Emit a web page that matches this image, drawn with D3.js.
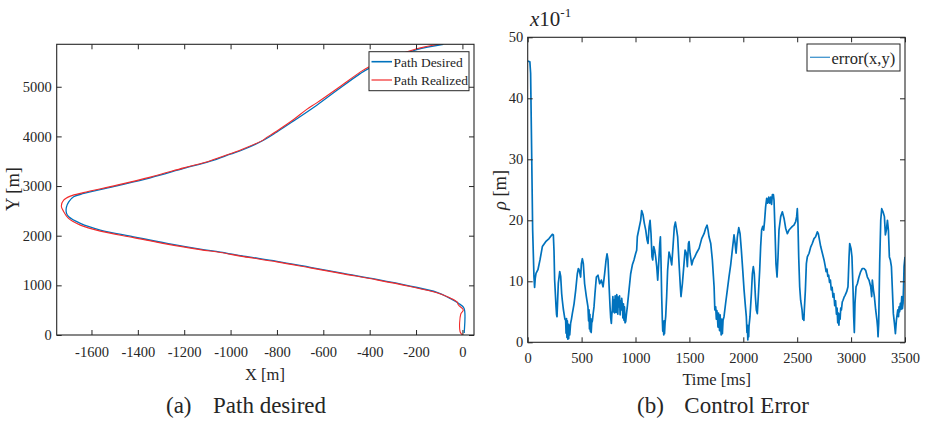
<!DOCTYPE html>
<html>
<head>
<meta charset="utf-8">
<script src="https://cdn.jsdelivr.net/npm/d3@7"></script>
<style>
  html, body { margin: 0; padding: 0; background: #fff; }
  svg { display: block; }
  text { font-family: "Liberation Serif", "Times New Roman", serif; fill: #262626; }
</style>
</head>
<body>
<svg id="chart" width="928" height="423"></svg>
<script>
// ---- Panel (a): desired vs realized path ----
const desiredX = [8, 8, 7, -17, -53, -110, -225, -369, -513, -656, -800, -944, -1044, -1131, -1274, -1418, -1562, -1648, -1698, -1708, -1708, -1698, -1677, -1633, -1490, -1346, -1202, -1087, -1001, -944, -858, -800, -728, -628, -541, -441, -405, -303, -197, -82];
const desiredY = [40, 60, 537, 638, 738, 859, 986, 1121, 1241, 1362, 1483, 1589, 1670, 1730, 1845, 1978, 2113, 2247, 2380, 2455, 2575, 2682, 2783, 2851, 3004, 3165, 3354, 3501, 3642, 3736, 3923, 4090, 4312, 4628, 4929, 5265, 5366, 5573, 5748, 5855];

const realizedX = [0, -10, -7, 4, -17, -24, -57, -110, -225, -369, -513, -656, -800, -944, -1044, -1131, -1274, -1418, -1562, -1648, -1700, -1721, -1730, -1720, -1691, -1635, -1490, -1346, -1202, -1087, -1001, -944, -864, -850, -800, -728, -673, -630, -541, -441, -406, -303, -197, -83];
const realizedY = [0, 66, 423, 503, 604, 670, 755, 849, 976, 1111, 1231, 1352, 1473, 1579, 1660, 1720, 1831, 1962, 2092, 2213, 2354, 2495, 2595, 2716, 2797, 2867, 3018, 3180, 3366, 3511, 3652, 3752, 3915, 3960, 4110, 4340, 4540, 4670, 4960, 5295, 5395, 5595, 5764, 5875];

const pathXTicks = [-1600, -1400, -1200, -1000, -800, -600, -400, -200, 0];
const pathYTicks = [0, 1000, 2000, 3000, 4000, 5000];
const pathLegend = ["Path Desired", "Path Realized"];

// ---- Panel (b): control error over time (values in units of 10^-1 m) ----
const errTime = [0, 20, 27, 34, 46, 58, 64, 70, 77, 95, 114, 136, 167, 198, 229, 238, 244, 250, 263, 268, 272, 278, 284, 297, 306, 315, 321, 330, 337, 345, 352, 356, 360, 364, 368, 372, 376, 380, 385, 390, 398, 406, 414, 430, 445, 460, 470, 479, 491, 498, 507, 516, 528, 544, 559, 565, 569, 573, 577, 581, 585, 589, 594, 600, 608, 615, 624, 637, 652, 668, 683, 699, 714, 727, 736, 745, 754, 764, 770, 776, 780, 785, 790, 795, 801, 806, 811, 816, 821, 826, 831, 836, 841, 847, 852, 857, 862, 867, 872, 878, 883, 888, 893, 898, 903, 909, 916, 924, 940, 955, 971, 986, 1002, 1011, 1017, 1033, 1048, 1057, 1070, 1082, 1095, 1107, 1116, 1126, 1135, 1144, 1153, 1160, 1169, 1178, 1187, 1197, 1206, 1215, 1225, 1231, 1237, 1243, 1249, 1253, 1258, 1262, 1265, 1269, 1274, 1280, 1289, 1298, 1311, 1323, 1336, 1348, 1360, 1370, 1382, 1391, 1404, 1416, 1422, 1435, 1450, 1460, 1472, 1481, 1491, 1497, 1506, 1522, 1534, 1550, 1565, 1590, 1614, 1636, 1651, 1664, 1673, 1682, 1698, 1713, 1729, 1736, 1744, 1750, 1755, 1760, 1765, 1770, 1775, 1780, 1785, 1790, 1795, 1800, 1806, 1812, 1821, 1836, 1852, 1867, 1883, 1898, 1914, 1924, 1933, 1945, 1958, 1970, 1982, 1995, 2007, 2020, 2028, 2034, 2038, 2042, 2046, 2050, 2053, 2062, 2075, 2084, 2093, 2102, 2112, 2121, 2130, 2139, 2152, 2161, 2170, 2180, 2189, 2198, 2207, 2217, 2226, 2236, 2245, 2254, 2262, 2270, 2279, 2285, 2294, 2303, 2313, 2322, 2331, 2347, 2362, 2378, 2393, 2409, 2424, 2439, 2455, 2470, 2486, 2495, 2501, 2507, 2514, 2523, 2532, 2545, 2552, 2557, 2562, 2566, 2576, 2585, 2594, 2610, 2625, 2640, 2656, 2671, 2687, 2696, 2718, 2749, 2760, 2768, 2776, 2784, 2792, 2800, 2808, 2816, 2824, 2832, 2840, 2848, 2856, 2864, 2870, 2876, 2882, 2887, 2892, 2898, 2904, 2910, 2918, 2925, 2935, 2944, 2959, 2971, 2975, 2981, 2987, 2999, 3008, 3018, 3024, 3030, 3036, 3046, 3058, 3073, 3089, 3104, 3120, 3135, 3151, 3166, 3182, 3191, 3197, 3207, 3216, 3228, 3240, 3246, 3250, 3256, 3265, 3275, 3284, 3296, 3309, 3318, 3327, 3337, 3346, 3355, 3364, 3374, 3383, 3392, 3402, 3411, 3420, 3426, 3433, 3440, 3445, 3450, 3457, 3463, 3470, 3476, 3482, 3488, 3491, 3500];
const errValue = [46.1, 46.0, 44.1, 34.8, 18.4, 10.8, 9.0, 10.5, 11.3, 11.9, 13.5, 15.7, 16.5, 17.0, 17.7, 17.6, 15.0, 10.2, 5.8, 4.5, 4.2, 7.0, 9.7, 11.6, 10.8, 8.0, 6.9, 5.5, 4.7, 3.8, 3.6, 1.5, 3.9, 0.8, 3.5, 0.5, 3.0, 0.6, 2.8, 1.2, 3.1, 3.8, 4.7, 6.3, 8.5, 11.2, 12.1, 11.8, 10.7, 12.9, 13.7, 12.9, 9.6, 7.5, 5.8, 3.5, 5.3, 2.2, 4.6, 1.8, 3.9, 1.6, 3.2, 3.5, 4.8, 5.8, 8.0, 10.7, 11.0, 9.6, 10.2, 9.1, 11.3, 13.5, 14.5, 13.5, 9.6, 5.8, 4.0, 3.1, 4.5, 5.3, 7.5, 5.0, 6.9, 4.8, 7.6, 6.4, 4.9, 7.8, 7.2, 4.6, 7.4, 5.8, 7.6, 4.5, 6.7, 5.3, 7.2, 6.1, 4.0, 6.3, 3.6, 5.8, 3.2, 3.4, 4.6, 5.8, 8.6, 11.2, 12.7, 13.5, 14.6, 15.1, 17.3, 18.7, 20.0, 21.6, 20.9, 19.5, 18.4, 16.8, 16.2, 18.9, 20.0, 17.8, 14.0, 13.5, 15.7, 15.1, 14.0, 12.4, 10.2, 12.9, 16.2, 17.3, 12.9, 7.5, 3.6, 1.8, 3.1, 1.2, 3.5, 1.4, 3.1, 4.2, 7.5, 11.8, 14.8, 14.0, 12.7, 15.7, 18.9, 19.7, 18.4, 17.3, 12.9, 9.1, 7.5, 9.6, 12.9, 15.1, 14.6, 12.4, 16.2, 16.5, 14.6, 12.7, 13.5, 14.0, 14.6, 15.4, 17.0, 17.8, 18.7, 19.2, 18.4, 17.3, 16.2, 13.5, 9.1, 5.3, 5.8, 3.8, 5.2, 4.2, 2.5, 4.8, 3.1, 1.9, 4.5, 2.6, 1.2, 3.8, 1.4, 3.6, 4.2, 6.4, 8.6, 10.7, 12.7, 15.1, 17.6, 16.2, 14.6, 17.3, 18.8, 17.8, 15.1, 11.8, 8.6, 5.8, 4.2, 1.6, 2.8, 0.4, 2.2, 0.9, 2.6, 4.2, 8.0, 11.2, 12.4, 11.2, 7.5, 5.3, 4.7, 7.5, 11.8, 15.7, 18.4, 19.0, 18.4, 20.0, 22.2, 23.6, 22.8, 23.8, 22.8, 23.8, 22.6, 24.2, 24.2, 23.3, 18.4, 12.9, 10.7, 14.0, 18.4, 20.6, 21.4, 20.3, 18.7, 17.8, 18.4, 18.7, 19.0, 19.2, 19.8, 20.6, 21.9, 19.5, 14.0, 9.1, 6.9, 5.3, 3.8, 4.2, 3.6, 5.3, 8.6, 12.9, 14.0, 14.6, 15.6, 16.2, 17.0, 17.3, 18.1, 17.8, 15.7, 13.5, 12.5, 11.6, 12.0, 10.8, 11.0, 9.8, 10.2, 8.6, 9.0, 7.4, 8.0, 6.0, 6.8, 4.6, 5.6, 3.2, 4.8, 2.8, 4.6, 3.8, 5.6, 5.3, 6.6, 6.9, 7.4, 7.7, 8.3, 9.1, 11.0, 14.0, 16.2, 15.4, 14.0, 8.6, 4.2, 1.6, 6.4, 9.1, 9.6, 10.7, 11.6, 12.1, 12.1, 11.8, 10.7, 10.2, 9.1, 7.5, 10.2, 8.6, 7.5, 5.3, 3.6, 2.4, 0.9, 3.1, 12.9, 20.0, 21.9, 21.4, 20.6, 17.6, 18.4, 20.0, 18.4, 14.0, 13.5, 12.4, 8.6, 4.7, 3.1, 1.4, 3.6, 4.4, 5.3, 4.2, 5.8, 5.0, 6.4, 5.4, 7.5, 5.5, 6.4, 10.0, 12.4, 14.0];

const errXTicks = [0, 500, 1000, 1500, 2000, 2500, 3000, 3500];
const errYTicks = [0, 10, 20, 30, 40, 50];
const errLegend = ["error(x,y)"];

const BLUE = "#0072BD";
const RED = "#f22b2b";
const AXIS = "#262626";
const SERIF = "'Liberation Serif', 'Times New Roman', serif";

const svg = d3.select("#chart");
svg.append("rect").attr("width", 928).attr("height", 423).attr("fill", "#fff");

// plain integer labels with an ASCII hyphen for negatives
const plainFormat = d => String(d);

// Draws a boxed axes frame with inward ticks on all four sides.
function frame(g, x, y, xTicks, yTicks, xPad, yPad) {
  const [x0, x1] = x.range();
  const [y0, y1] = y.range();
  const w = x1 - x0, h = y0 - y1;
  const tick = 5;

  const bottom = g.append("g").attr("transform", `translate(0,${y0})`)
    .call(d3.axisBottom(x).tickValues(xTicks).tickFormat(plainFormat).tickSizeInner(-tick).tickSizeOuter(0).tickPadding(xPad));
  const top = g.append("g").attr("transform", `translate(0,${y1})`)
    .call(d3.axisTop(x).tickValues(xTicks).tickSizeInner(-tick).tickSizeOuter(0).tickFormat(""));
  const left = g.append("g").attr("transform", `translate(${x0},0)`)
    .call(d3.axisLeft(y).tickValues(yTicks).tickFormat(plainFormat).tickSizeInner(-tick).tickSizeOuter(0).tickPadding(yPad));
  const right = g.append("g").attr("transform", `translate(${x1},0)`)
    .call(d3.axisRight(y).tickValues(yTicks).tickSizeInner(-tick).tickSizeOuter(0).tickFormat(""));

  [bottom, top, left, right].forEach(a => {
    a.attr("font-family", null);
    a.select(".domain").remove();
    a.selectAll("line").attr("stroke", AXIS).attr("stroke-width", 1);
    a.selectAll("text").style("font-family", SERIF).style("font-size", "14.5px").attr("fill", AXIS);
  });

  g.append("rect").attr("x", x0).attr("y", y1).attr("width", w).attr("height", h)
    .attr("fill", "none").attr("stroke", AXIS).attr("stroke-width", 1.1);
}

// ---------- Panel (a) ----------
const ax = d3.scaleLinear().domain([-1750, 50]).range([56.7, 474]);
const ay = d3.scaleLinear().domain([0, 5855]).range([335, 44.3]);
const ga = svg.append("g");

ga.append("clipPath").attr("id", "clipA").append("rect")
  .attr("x", 56.7).attr("y", 44.3).attr("width", 474 - 56.7).attr("height", 335 - 44.3);

const pathLine = d3.line().x(d => ax(d[0])).y(d => ay(d[1])).curve(d3.curveCatmullRom.alpha(0.5));
const desired = desiredX.map((v, i) => [v, desiredY[i]]);
const realized = realizedX.map((v, i) => [v, realizedY[i]]);

const plotA = ga.append("g").attr("clip-path", "url(#clipA)");
plotA.append("path").attr("d", pathLine(desired)).attr("fill", "none").attr("stroke", BLUE).attr("stroke-width", 1.3);
plotA.append("path").attr("d", pathLine(realized)).attr("fill", "none").attr("stroke", RED).attr("stroke-width", 1.1);

frame(ga, ax, ay, pathXTicks, pathYTicks, 12, 5);

// legend (a)
const legA = ga.append("g");
legA.append("rect").attr("x", 369).attr("y", 51.7).attr("width", 100).attr("height", 39)
  .attr("fill", "#fff").attr("stroke", AXIS).attr("stroke-width", 1);
[BLUE, RED].forEach((c, i) => {
  const yy = 61.7 + i * 18.3;
  legA.append("line").attr("x1", 371.5).attr("x2", 392).attr("y1", yy).attr("y2", yy)
    .attr("stroke", c).attr("stroke-width", i === 0 ? 1.6 : 1.2);
  legA.append("text").attr("x", 393.5).attr("y", yy + 5).attr("font-size", 13.5).text(pathLegend[i]);
});

ga.append("text").attr("x", 265).attr("y", 380).attr("text-anchor", "middle").attr("font-size", 16.5).text("X [m]");
ga.append("text").attr("transform", "translate(19,189) rotate(-90)").attr("text-anchor", "middle")
  .attr("font-size", 18.5).text("Y [m]");

ga.append("text").attr("x", 166).attr("y", 413).attr("font-size", 23).text("(a)");
ga.append("text").attr("x", 213).attr("y", 413).attr("font-size", 23).text("Path desired");

// ---------- Panel (b) ----------
const bx = d3.scaleLinear().domain([0, 3500]).range([527.7, 905]);
const by = d3.scaleLinear().domain([0, 50]).range([342.3, 37.3]);
const gb = svg.append("g");

gb.append("clipPath").attr("id", "clipB").append("rect")
  .attr("x", 527.7).attr("y", 37.3).attr("width", 905 - 527.7).attr("height", 342.3 - 37.3);

const errLine = d3.line().x((d, i) => bx(errTime[i])).y(d => by(d));
gb.append("g").attr("clip-path", "url(#clipB)")
  .append("path").attr("d", errLine(errValue)).attr("fill", "none")
  .attr("stroke", BLUE).attr("stroke-width", 1.7).attr("stroke-linejoin", "round");

frame(gb, bx, by, errXTicks, errYTicks, 10, 4.5);

// legend (b)
const legB = gb.append("g");
legB.append("rect").attr("x", 807).attr("y", 44).attr("width", 93).attr("height", 27)
  .attr("fill", "#fff").attr("stroke", AXIS).attr("stroke-width", 1);
legB.append("line").attr("x1", 810).attr("x2", 830).attr("y1", 57.3).attr("y2", 57.3)
  .attr("stroke", BLUE).attr("stroke-width", 1.3).attr("stroke-opacity", 0.75);
legB.append("text").attr("x", 831.5).attr("y", 63.5).attr("font-size", 16.5).text(errLegend[0]);

// exponent label above the y axis
const expo = gb.append("text").attr("x", 530).attr("y", 26).attr("font-size", 21);
expo.append("tspan").attr("font-style", "italic").text("x");
expo.append("tspan").text("10");
expo.append("tspan").attr("font-size", 13).attr("dy", -9).text("-1");

gb.append("text").attr("x", 716.7).attr("y", 385).attr("text-anchor", "middle").attr("font-size", 16.5).text("Time [ms]");
const rl = gb.append("text").attr("transform", "translate(506,190) rotate(-90)").attr("text-anchor", "middle").attr("font-size", 18.5);
rl.append("tspan").attr("font-style", "italic").text("ρ");
rl.append("tspan").text(" [m]");

gb.append("text").attr("x", 637).attr("y", 413).attr("font-size", 23).text("(b)");
gb.append("text").attr("x", 684.3).attr("y", 413).attr("font-size", 23).text("Control Error");
</script>
</body>
</html>
